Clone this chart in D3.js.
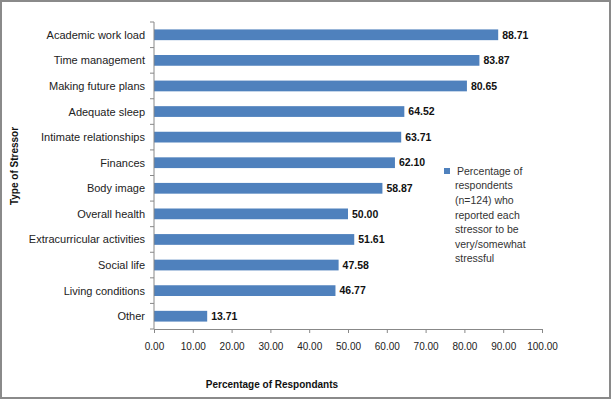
<!DOCTYPE html>
<html>
<head>
<meta charset="utf-8">
<script src="https://cdn.jsdelivr.net/npm/d3@7"></script>
<style>
  body { margin: 0; background: #fff; }
  svg { display: block; font-family: "Liberation Sans", Arial, sans-serif; }
</style>
</head>
<body>
<svg id="chart"></svg>
<script>
// data
const categories = ["Academic work load", "Time management", "Making future plans", "Adequate sleep",
    "Intimate relationships", "Finances", "Body image", "Overall health",
    "Extracurricular activities", "Social life", "Living conditions", "Other"];
const values = [88.71, 83.87, 80.65, 64.52, 63.71, 62.10, 58.87, 50.00, 51.61, 47.58, 46.77, 13.71];
const xTicks = [0, 10, 20, 30, 40, 50, 60, 70, 80, 90, 100];
const legendLines = ["Percentage of", "respondents", "(n=124) who", "reported each",
    "stressor to be", "very/somewhat", "stressful"];

const width = 611;
const height = 399;
const margin = { top: 22, left: 154, right: 69, bottom: 70 };

const svg = d3.select("#chart")
    .attr("width", width)
    .attr("height", height);

svg.append("rect")
    .attr("x", 1).attr("y", 1)
    .attr("width", width - 2).attr("height", height - 2)
    .attr("fill", "#fff")
    .attr("stroke", "#8a8a8a")
    .attr("stroke-width", 2);

const x = d3.scaleLinear()
    .domain([0, 100])
    .range([margin.left, width - margin.right]);

const y = d3.scaleBand()
    .domain(categories)
    .range([margin.top, height - margin.bottom])
    .paddingInner(0.58)
    .paddingOuter(0.29);

const band = d3.scaleBand()
    .domain(categories)
    .range([margin.top, height - margin.bottom]);

// bars
svg.selectAll(".bar")
    .data(categories)
    .enter()
    .append("rect")
    .attr("class", "bar")
    .attr("x", x(0))
    .attr("y", d => y(d))
    .attr("width", (d, i) => x(values[i]) - x(0))
    .attr("height", y.bandwidth())
    .attr("fill", "#4F81BD");

// value labels
svg.selectAll(".val")
    .data(categories)
    .enter()
    .append("text")
    .attr("class", "val")
    .attr("x", (d, i) => x(values[i]) + 4)
    .attr("y", d => y(d) + y.bandwidth() / 2)
    .attr("dy", "0.36em")
    .style("font-size", "10.5px")
    .style("font-weight", "bold")
    .style("fill", "#111")
    .text((d, i) => values[i].toFixed(2));

// y axis
const yAxis = svg.append("g")
    .attr("transform", `translate(${x(0)},0)`);
yAxis.append("line")
    .attr("y1", margin.top).attr("y2", height - margin.bottom)
    .attr("stroke", "#888");
yAxis.selectAll(".ytick")
    .data(categories.concat(["_end"]))
    .enter()
    .append("line")
    .attr("x1", -4).attr("x2", 0)
    .attr("y1", (d, i) => i < categories.length ? band(d) : height - margin.bottom)
    .attr("y2", (d, i) => i < categories.length ? band(d) : height - margin.bottom)
    .attr("stroke", "#888");
yAxis.selectAll(".ylab")
    .data(categories)
    .enter()
    .append("text")
    .attr("x", -9)
    .attr("y", d => band(d) + band.bandwidth() / 2)
    .attr("dy", "0.36em")
    .attr("text-anchor", "end")
    .style("font-size", "11px")
    .style("fill", "#222")
    .text(d => d);

// x axis
const xAxis = svg.append("g")
    .attr("transform", `translate(0,${height - margin.bottom})`)
    .call(d3.axisBottom(x).tickValues(xTicks).tickSize(4).tickSizeOuter(0).tickPadding(10)
        .tickFormat(d3.format(".2f")));
xAxis.select(".domain").attr("stroke", "#888");
xAxis.selectAll(".tick line").attr("stroke", "#888");
xAxis.selectAll(".tick text")
    .style("font-family", "Liberation Sans, Arial, sans-serif")
    .style("font-size", "10px")
    .style("fill", "#222");

// axis titles
svg.append("text")
    .attr("x", 272)
    .attr("y", 388)
    .attr("text-anchor", "middle")
    .style("font-size", "10px")
    .style("font-weight", "bold")
    .style("fill", "#111")
    .text("Percentage of Respondants");

svg.append("text")
    .attr("transform", "translate(18,166) rotate(-90)")
    .attr("text-anchor", "middle")
    .style("font-size", "10px")
    .style("font-weight", "bold")
    .style("fill", "#111")
    .text("Type of Stressor");

// legend
const legend = svg.append("g").attr("transform", "translate(444,168)");
legend.append("rect")
    .attr("width", 6).attr("height", 6)
    .attr("fill", "#4F81BD");
legend.selectAll("text")
    .data(legendLines)
    .enter()
    .append("text")
    .attr("x", (d, i) => i === 0 ? 13 : 11)
    .attr("y", (d, i) => 3 + i * 14.6)
    .attr("dy", "0.36em")
    .style("font-size", "10.5px")
    .style("fill", "#333")
    .text(d => d);
</script>
</body>
</html>
